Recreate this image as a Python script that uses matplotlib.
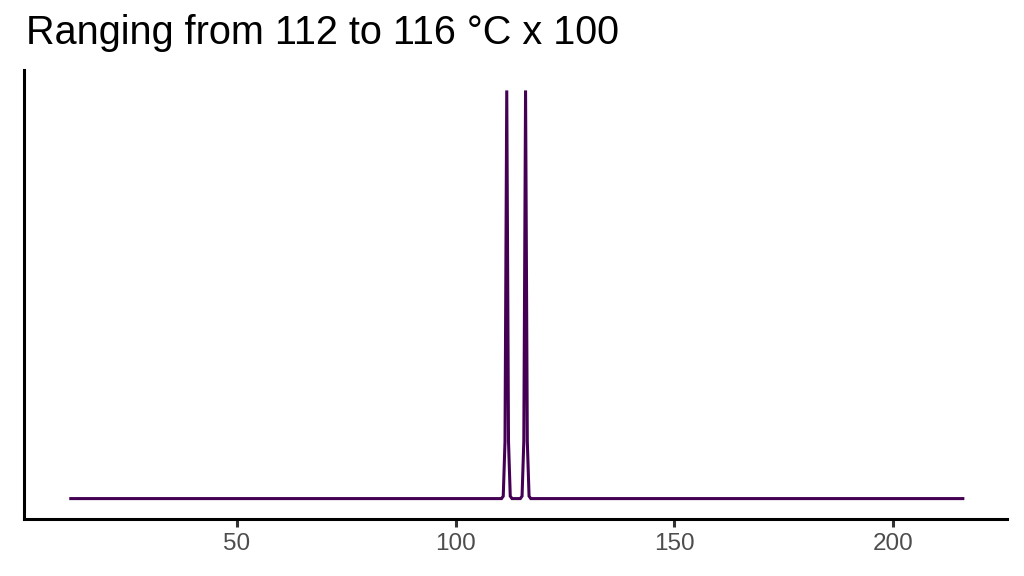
import matplotlib
matplotlib.use("Agg")
import matplotlib.pyplot as plt

plt.rcParams['font.family'] = ['Liberation Sans', 'DejaVu Sans']

# density curve (two narrow peaks near 112 and 116)
temp_x = [12, 110.5, 110.9, 111.3, 111.7, 112.1, 112.5, 112.9,
          114.8, 115.2, 115.6, 116.0, 116.4, 116.8, 117.2, 216]
density = [0, 0, 0.006, 0.14, 1.0, 0.14, 0.006, 0,
           0, 0.006, 0.14, 1.0, 0.14, 0.006, 0, 0]
x_ticks = [50, 100, 150, 200]
title = "Ranging from 112 to 116 °C x 100"

fig = plt.figure(figsize=(10.24, 5.76), dpi=100)
ax = fig.add_axes([24 / 1024, 57 / 576, 983 / 1024, 449 / 576])

ax.plot(temp_x, density, color='#440154', lw=2.2, solid_joinstyle='miter')

ax.set_xlim(1.3, 226.1)
ax.set_ylim(-0.05, 1.05)
ax.set_xticks(x_ticks)
ax.set_xticklabels([str(t) for t in x_ticks])
ax.set_yticks([])

for side in ['top', 'right']:
    ax.spines[side].set_visible(False)
for side in ['left', 'bottom']:
    ax.spines[side].set_linewidth(2.2)
    ax.spines[side].set_color('black')
ax.tick_params(axis='x', length=6, width=2.2, color='#333333',
               labelsize=17.5, labelcolor='#4D4D4D', pad=4)

fig.text(0.025, 0.942, title, fontsize=28.5, ha='left', va='center')

fig.savefig('out.png', dpi=100)
